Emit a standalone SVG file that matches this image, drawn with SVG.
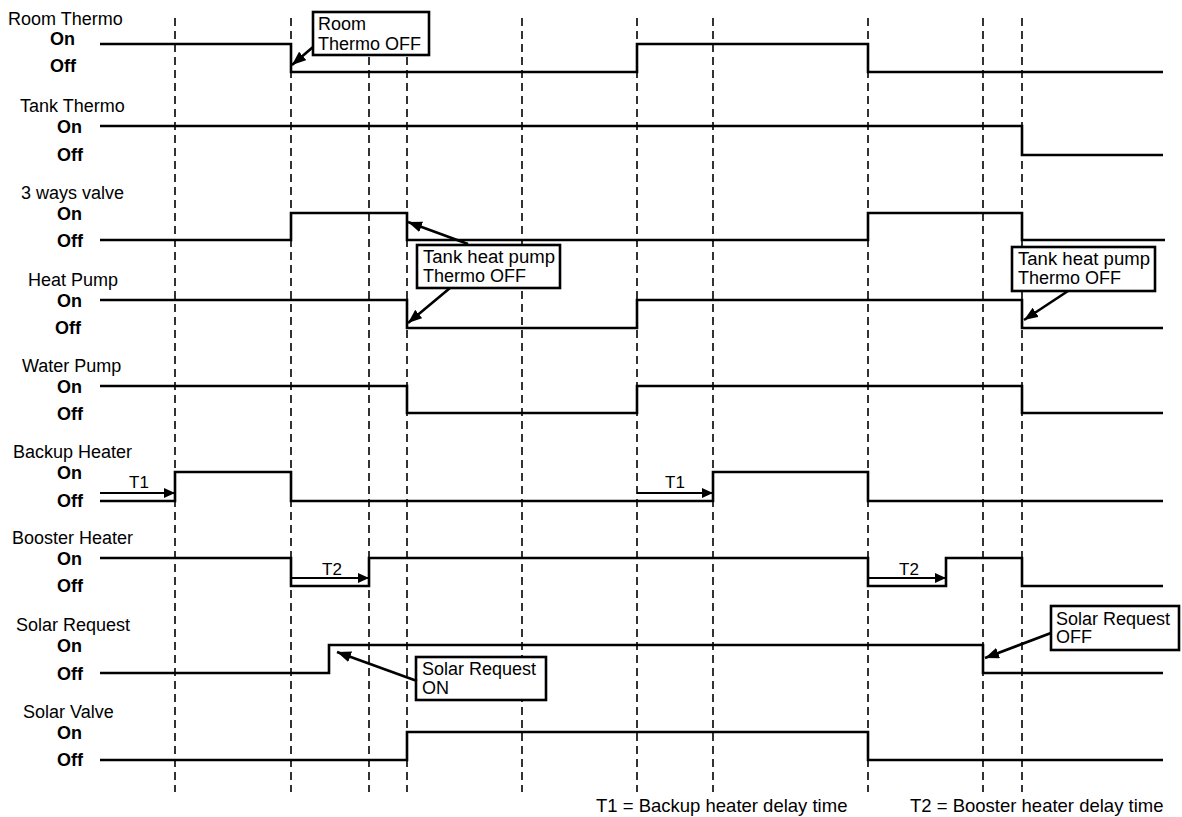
<svg xmlns="http://www.w3.org/2000/svg" width="1182" height="817" viewBox="0 0 1182 817">
<style>
.bg{fill:#fff}
.grid line{stroke:#000;stroke-width:1.6;stroke-dasharray:8,5}
.sig{fill:none;stroke:#000;stroke-width:2.6;stroke-linejoin:miter}
.name{font-family:"Liberation Sans",Arial,sans-serif;font-size:18px;fill:#000}
.lvl{font-family:"Liberation Sans",Arial,sans-serif;font-size:18px;font-weight:bold;fill:#000}
.box{fill:#fff;stroke:#000;stroke-width:2.6}
.bt{font-family:"Liberation Sans",Arial,sans-serif;font-size:18px;fill:#000}
.arr{fill:none;stroke:#000;stroke-width:2.6;marker-end:url(#ah)}
.tarr{fill:none;stroke:#000;stroke-width:2.2;marker-end:url(#th)}
.tl{font-family:"Liberation Sans",Arial,sans-serif;font-size:17px;fill:#000;text-anchor:middle}
.foot{font-family:"Liberation Sans",Arial,sans-serif;font-size:18.5px;fill:#000}
</style>
<defs>
<marker id="ah" markerUnits="userSpaceOnUse" markerWidth="14" markerHeight="11" refX="14" refY="5.5" orient="auto"><path d="M0,0 L14,5.5 L0,11 z" fill="#000"/></marker>
<marker id="th" markerUnits="userSpaceOnUse" markerWidth="11" markerHeight="10" refX="11" refY="5" orient="auto"><path d="M0,0 L11,5 L0,10 z" fill="#000"/></marker>
</defs>
<rect class="bg" x="0" y="0" width="1182" height="817"/>
<g id="grid" class="grid">
<line x1="175" y1="18" x2="175" y2="792"/>
<line x1="291" y1="18" x2="291" y2="792"/>
<line x1="369" y1="18" x2="369" y2="792"/>
<line x1="407" y1="18" x2="407" y2="792"/>
<line x1="522" y1="18" x2="522" y2="792"/>
<line x1="637" y1="18" x2="637" y2="792"/>
<line x1="713" y1="18" x2="713" y2="792"/>
<line x1="868" y1="18" x2="868" y2="792"/>
<line x1="983" y1="18" x2="983" y2="792"/>
<line x1="1022" y1="18" x2="1022" y2="792"/>
</g>
<g id="room-thermo">
<text class="name" x="8" y="25">Room Thermo</text>
<text class="lvl" x="50" y="45">On</text>
<text class="lvl" x="50" y="72">Off</text>
<path class="sig" d="M100,44 H291 V72 H637 V44 H868 V72 H1163"/>
</g>
<g id="tank-thermo">
<text class="name" x="20" y="112">Tank Thermo</text>
<text class="lvl" x="57" y="133">On</text>
<text class="lvl" x="57" y="161">Off</text>
<path class="sig" d="M100,126 H1022 V155 H1163"/>
</g>
<g id="three-ways-valve">
<text class="name" x="21" y="199">3 ways valve</text>
<text class="lvl" x="57" y="220">On</text>
<text class="lvl" x="57" y="247">Off</text>
<path class="sig" d="M100,240 H291 V213 H407 V240 H868 V213 H1022 V240 H1165"/>
</g>
<g id="heat-pump">
<text class="name" x="28" y="286">Heat Pump</text>
<text class="lvl" x="57" y="307">On</text>
<text class="lvl" x="55" y="334">Off</text>
<path class="sig" d="M100,300 H407 V328 H637 V300 H1022 V328 H1163"/>
</g>
<g id="water-pump">
<text class="name" x="22" y="372">Water Pump</text>
<text class="lvl" x="57" y="393">On</text>
<text class="lvl" x="57" y="420">Off</text>
<path class="sig" d="M100,386 H407 V413 H637 V386 H1022 V413 H1163"/>
</g>
<g id="backup-heater">
<text class="name" x="13" y="458">Backup Heater</text>
<text class="lvl" x="57" y="479">On</text>
<text class="lvl" x="57" y="507">Off</text>
<path class="sig" d="M100,501 H175 V472 H291 V501 H713 V472 H868 V501 H1163"/>
<text class="tl" x="139" y="488">T1</text>
<text class="tl" x="675" y="488">T1</text>
</g>
<g id="booster-heater">
<text class="name" x="12" y="544">Booster Heater</text>
<text class="lvl" x="57" y="565">On</text>
<text class="lvl" x="57" y="592">Off</text>
<path class="sig" d="M100,558 H291 V586 H369 V558 H868 V586 H946 V558 H1022 V586 H1163"/>
<text class="tl" x="332" y="575">T2</text>
<text class="tl" x="909" y="575">T2</text>
</g>
<g id="solar-request">
<text class="name" x="16" y="631">Solar Request</text>
<text class="lvl" x="57" y="652">On</text>
<text class="lvl" x="57" y="680">Off</text>
<path class="sig" d="M100,673 H329 V645 H983 V673 H1163"/>
</g>
<g id="solar-valve">
<text class="name" x="23" y="718">Solar Valve</text>
<text class="lvl" x="57" y="739">On</text>
<text class="lvl" x="57" y="766">Off</text>
<path class="sig" d="M100,760 H407 V732 H868 V760 H1163"/>
</g>
<g id="callout-room-thermo-off">
<rect class="box" x="313" y="12" width="116" height="43"/>
<text class="bt" x="318" y="30">Room</text>
<text class="bt" x="318" y="50">Thermo OFF</text>
</g>
<g id="callout-tank-hp-off-1">
<rect class="box" x="417" y="245" width="143" height="43"/>
<text class="bt" x="423" y="263" textLength="132" lengthAdjust="spacingAndGlyphs">Tank heat pump</text>
<text class="bt" x="423" y="282">Thermo OFF</text>
</g>
<g id="callout-tank-hp-off-2">
<rect class="box" x="1012" y="247" width="143" height="44"/>
<text class="bt" x="1018" y="265" textLength="132" lengthAdjust="spacingAndGlyphs">Tank heat pump</text>
<text class="bt" x="1018" y="284">Thermo OFF</text>
</g>
<g id="callout-solar-request-on">
<rect class="box" x="416" y="657" width="130" height="43"/>
<text class="bt" x="422" y="675">Solar Request</text>
<text class="bt" x="422" y="694">ON</text>
</g>
<g id="callout-solar-request-off">
<rect class="box" x="1051" y="606" width="128" height="44"/>
<text class="bt" x="1056" y="625">Solar Request</text>
<text class="bt" x="1056" y="643">OFF</text>
</g>
<g id="connectors">
<path class="tarr" d="M100,493 H175"/>
<path class="tarr" d="M637,493 H713"/>
<path class="tarr" d="M291,578 H369"/>
<path class="tarr" d="M868,578 H946"/>
<path class="arr" d="M313,47 L292,65"/>
<path class="arr" d="M468,244 L408,222"/>
<path class="arr" d="M450,288 L408,323"/>
<path class="arr" d="M1068,291 L1024,320"/>
<path class="arr" d="M1051,633 L985,658"/>
<path class="arr" d="M417,681 L337,652"/>
</g>
<text class="foot" x="596" y="812">T1 = Backup heater delay time</text>
<text class="foot" x="910" y="812">T2 = Booster heater delay time</text>
</svg>
